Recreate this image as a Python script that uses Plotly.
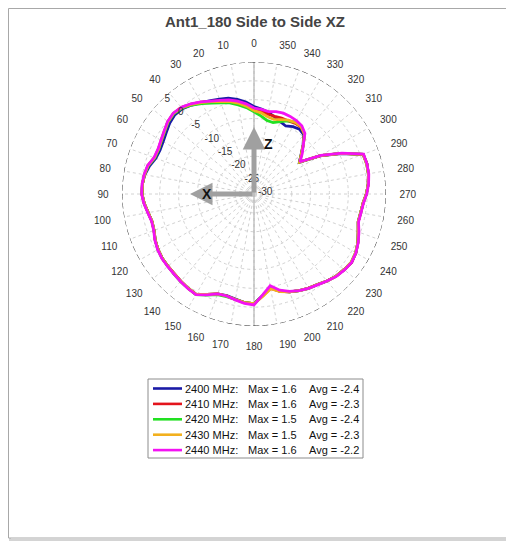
import numpy as np
import plotly.graph_objects as go

# the page body has an 8px margin, so the figure is sized/offset to land on the 514x543 window
OFF = 8
W, H = 514 - OFF, 543 - OFF

angles = list(range(0, 360, 5))

# gain (dB), every 5 degrees
gain_2400 = [-6.8, -5.5, -4.5, -3.7, -3.2, -2.7, -2.0, -1.2, -0.5, -0.3, -0.8, -1.6, -2.2, -2.5, -2.3, -1.3, -0.6, -0.3,
             -0.3, -0.8, -1.5, -2.0, -1.8, -1.1, -0.6, -0.3, -0.2, -0.1, 0.2, 0.5, 0.7, -0.6, -1.8, -2.1, -1.7, -1.1,
             -0.9, -3.0, -4.8, -3.3, -2.4, -1.7, -1.1, -0.7, 0.1, 0.8, 1.2, 1.6, 1.2, 0.4, -0.6, -1.4, -1.3, -1.0,
             -0.2, 0.4, 0.8, 1.0, 0.8, -4.6, -9.8, -15.3, -13.7, -11.6, -9.5, -9.0, -9.4, -10.1, -9.6, -8.9, -8.0, -7.4]
gain_2410 = [-7.3, -6.1, -5.1, -4.3, -3.7, -2.9, -1.9, -0.9, -0.1, 0.2, -0.2, -1.0, -1.6, -2.0, -1.9, -0.9, -0.5, -0.3,
             -0.3, -0.8, -1.5, -2.0, -1.8, -1.1, -0.6, -0.3, -0.2, -0.1, 0.2, 0.5, 0.7, -0.6, -1.8, -2.0, -1.6, -1.1,
             -0.9, -2.9, -4.6, -3.3, -2.4, -1.7, -1.2, -0.7, 0.1, 0.8, 1.2, 1.6, 1.2, 0.4, -0.6, -1.4, -1.3, -1.0,
             -0.2, 0.4, 0.8, 1.0, 0.8, -4.5, -9.7, -15.2, -13.6, -11.5, -9.2, -8.3, -8.3, -8.6, -8.6, -8.7, -8.5, -7.9]
gain_2420 = [-8.2, -7.0, -6.0, -5.0, -4.3, -3.4, -2.3, -1.2, -0.3, 0.1, -0.3, -1.1, -1.7, -2.1, -2.0, -1.0, -0.5, -0.3,
             -0.3, -0.8, -1.5, -2.0, -1.8, -1.1, -0.6, -0.3, -0.2, 0.0, 0.3, 0.5, 0.8, -0.4, -1.6, -1.8, -1.6, -1.1,
             -0.9, -3.0, -4.8, -3.4, -2.4, -1.7, -1.1, -0.7, 0.1, 0.8, 1.2, 1.5, 1.1, 0.4, -0.6, -1.4, -1.3, -1.0,
             -0.2, 0.4, 0.8, 0.9, 0.8, -4.5, -9.7, -15.2, -13.6, -11.5, -9.2, -8.1, -8.0, -8.6, -9.6, -10.4, -10.2, -9.2]
gain_2430 = [-7.9, -6.6, -5.5, -4.6, -3.9, -3.0, -2.0, -1.0, -0.1, 0.2, -0.2, -1.0, -1.6, -2.0, -1.9, -0.9, -0.5, -0.3,
             -0.3, -0.8, -1.5, -2.0, -1.8, -1.1, -0.6, -0.3, -0.2, -0.1, 0.2, 0.5, 0.7, -0.6, -1.8, -2.0, -1.6, -1.1,
             -0.9, -2.8, -4.5, -3.2, -2.4, -1.7, -1.1, -0.7, 0.1, 0.8, 1.2, 1.5, 1.1, 0.4, -0.6, -1.4, -1.3, -1.0,
             -0.2, 0.4, 0.8, 0.9, 0.8, -4.5, -9.7, -15.2, -13.6, -11.5, -9.2, -8.2, -8.1, -8.4, -9.0, -9.5, -9.2, -8.4]
gain_2440 = [-7.2, -6.0, -5.0, -4.2, -3.6, -2.8, -1.8, -0.8, 0.0, 0.3, -0.1, -0.9, -1.5, -1.9, -1.8, -0.8, -0.4, -0.2,
             -0.2, -0.7, -1.4, -1.9, -1.7, -1.0, -0.5, -0.2, -0.1, 0.0, 0.3, 0.6, 0.8, -0.5, -1.8, -2.0, -1.5, -0.9,
             -0.6, -3.2, -5.3, -3.6, -2.5, -1.7, -1.1, -0.6, 0.1, 0.9, 1.3, 1.6, 1.2, 0.5, -0.4, -1.3, -1.2, -0.9,
             -0.1, 0.5, 0.9, 1.0, 0.9, -4.3, -9.5, -15.1, -13.3, -11.5, -9.0, -7.9, -7.5, -7.3, -7.2, -7.4, -7.8, -7.5]

freqs = ['2400 MHz:', '2410 MHz:', '2420 MHz:', '2430 MHz:', '2440 MHz:']
max_vals = ['1.6', '1.6', '1.5', '1.5', '1.6']
avg_vals = ['-2.4', '-2.3', '-2.4', '-2.3', '-2.2']
colors = ['#1a1aa6', '#e3141c', '#22e022', '#f2b01e', '#f312f3']
series = [gain_2400, gain_2410, gain_2420, gain_2430, gain_2440]

r_min, r_max = -30, 5
radial_ticks = list(range(-30, 6, 5))
angle_ticks = list(range(0, 360, 10))


def px(x):
    # window pixel -> paper fraction
    return (x - OFF) / W


def py(y):
    return 1 - (y - OFF) / H


fig = go.Figure()

# vertical reference line through the centre
fig.add_trace(go.Scatterpolar(theta=[0, 180], r=[r_max, r_max], mode='lines',
                              line=dict(color='#b4b4b4', width=1.2), hoverinfo='skip', showlegend=False))

for vals, col in zip(series, colors):
    fig.add_trace(go.Scatterpolar(
        theta=angles + [360], r=vals + [vals[0]], mode='lines',
        line=dict(color=col, width=2.8),
        showlegend=False))

# dashed outer ring
ring = np.arange(0, 361, 1)
fig.add_trace(go.Scatterpolar(theta=ring, r=np.full(ring.shape, r_max), mode='lines',
                              line=dict(color='#222222', width=1, dash='6px,3px'),
                              hoverinfo='skip', showlegend=False))

fig.update_layout(
    width=W, height=H,
    margin=dict(l=0, r=0, t=0, b=0),
    paper_bgcolor='white',
    font=dict(family='Arial, Liberation Sans, sans-serif', color='#333333'),
    title=dict(text='<b>Ant1_180 Side to Side XZ</b>', x=px(255), y=py(22),
               xanchor='center', yanchor='middle',
               font=dict(size=15, color='#444444')),
    polar=dict(
        domain=dict(x=[px(122), px(386)], y=[py(326), py(62)]),
        bgcolor='white',
        angularaxis=dict(rotation=90, direction='counterclockwise',
                         tickmode='array', tickvals=angle_ticks,
                         ticktext=[str(a) for a in angle_ticks],
                         showline=False, ticks='outside', ticklen=11,
                         tickcolor='rgba(0,0,0,0)',
                         gridcolor='#d2d2d2', griddash='dot', gridwidth=1,
                         tickfont=dict(size=10, color='#333333')),
        radialaxis=dict(range=[r_min, r_max], tickmode='array', tickvals=radial_ticks,
                        ticktext=[str(t) for t in radial_ticks],
                        angle=135, tickangle=135, showline=False, ticks='',
                        gridcolor='#d2d2d2', griddash='dot', gridwidth=1,
                        tickfont=dict(size=10, color='#333333')),
    ),
)

shapes = [
    dict(type='rect', xref='paper', yref='paper', x0=px(10), x1=px(512), y0=py(540), y1=py(10),
         line=dict(color='#d4d4d4', width=2), layer='below'),
    dict(type='rect', xref='paper', yref='paper', x0=px(8.5), x1=px(510), y0=py(538), y1=py(8.5),
         line=dict(color='#a8a8a8', width=1), fillcolor='white', layer='below'),
    dict(type='rect', xref='paper', yref='paper', x0=px(148), x1=px(363), y0=py(458), y1=py(379),
         line=dict(color='#8c8c8c', width=1)),
]

annotations = [
    # axis arrows
    dict(x=px(254), y=py(127), xref='paper', yref='paper', ax=0, ay=67, text='',
         showarrow=True, arrowhead=2, arrowsize=0.9, arrowwidth=5, arrowcolor='#a0a0a0'),
    dict(x=px(190), y=py(194), xref='paper', yref='paper', ax=64, ay=0, text='',
         showarrow=True, arrowhead=2, arrowsize=0.9, arrowwidth=5, arrowcolor='#a0a0a0'),
    dict(x=px(268), y=py(134), xref='paper', yref='paper', text='<b>Z</b>', showarrow=False,
         font=dict(size=14, color='#111111')),
    dict(x=px(207), y=py(184), xref='paper', yref='paper', text='<b>X</b>', showarrow=False,
         font=dict(size=14, color='#111111')),
]

row_y0, row_step = 388.5, 15.4
for i, (f, m, a, col) in enumerate(zip(freqs, max_vals, avg_vals, colors)):
    yy = row_y0 + i * row_step
    shapes.append(dict(type='line', xref='paper', yref='paper', x0=px(153), x1=px(182),
                       y0=py(yy), y1=py(yy), line=dict(color=col, width=2.6)))
    for xx, txt in [(183, f), (246, 'Max = ' + m), (307, 'Avg = ' + a)]:
        annotations.append(dict(x=px(xx), y=py(yy), xref='paper', yref='paper', text=txt,
                                showarrow=False, xanchor='left', yanchor='middle',
                                font=dict(size=11, color='#111111')))

fig.update_layout(shapes=shapes, annotations=annotations)

fig.write_html("out.html")
